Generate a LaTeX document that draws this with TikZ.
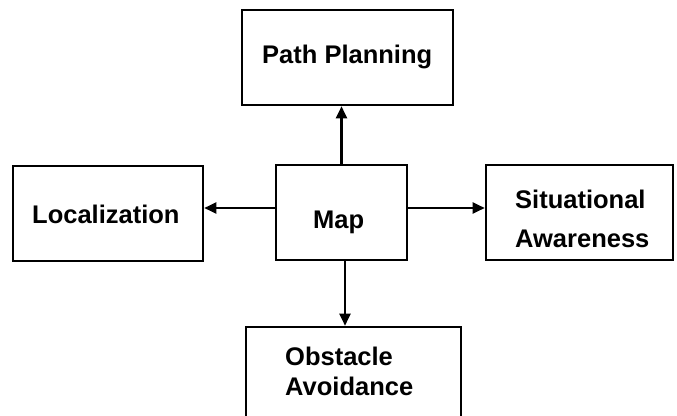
\documentclass[tikz,border=0pt]{standalone}
\usepackage{fontspec}
\setmainfont{Liberation Sans}
\usetikzlibrary{arrows.meta}

\tikzset{
  box/.style={draw=black, line width=1.6pt, fill=white, rectangle, inner sep=0pt},
  lbl/.style={anchor=base west, inner sep=0pt, font=\fontsize{25.5}{30}\selectfont\bfseries},
  link/.style={line width=2.2pt, -{Triangle[length=12pt,width=11pt]}, shorten >=0.5pt}
}

\begin{document}
\begin{tikzpicture}[x=1pt,y=-1pt]
  \useasboundingbox[fill=white] (0,0) rectangle (677,415);

  % boxes
  \node[box, minimum width=211pt, minimum height=95pt] (plan) at (347.5,57.5) {};
  \node[box, minimum width=190pt, minimum height=95pt] (loc)  at (108,213.5) {};
  \node[box, minimum width=131pt, minimum height=95pt] (map)  at (341.5,212.5) {};
  \node[box, minimum width=187pt, minimum height=95pt] (sit)  at (579.5,212.5) {};
  \node[box, minimum width=215pt, minimum height=96pt] (obs)  at (353.5,375) {};

  % labels
  \node[lbl] (plantxt) at (262,63)  {Path Planning};
  \node[lbl] (loctxt)  at (32,223)  {Localization};
  \node[lbl] (maptxt)  at (313,228) {Map};
  \node[lbl] (sittxta) at (515,208) {Situational};
  \node[lbl] (sittxtb) at (515,247) {Awareness};
  \node[lbl] (obstxta) at (285,365) {Obstacle};
  \node[lbl] (obstxtb) at (285,395) {Avoidance};

  % connectors from the map
  \draw[link] (map.north) -- (map.north |- plan.south);
  \draw[link] ([yshift=4.5pt]map.west) -- ([yshift=4.5pt]map.west -| loc.east);
  \draw[link] ([yshift=4.5pt]map.east) -- ([yshift=4.5pt]map.east -| sit.west);
  \draw[link] ([xshift=3.5pt]map.south) -- ([xshift=3.5pt]map.south |- obs.north);
\end{tikzpicture}
\end{document}
